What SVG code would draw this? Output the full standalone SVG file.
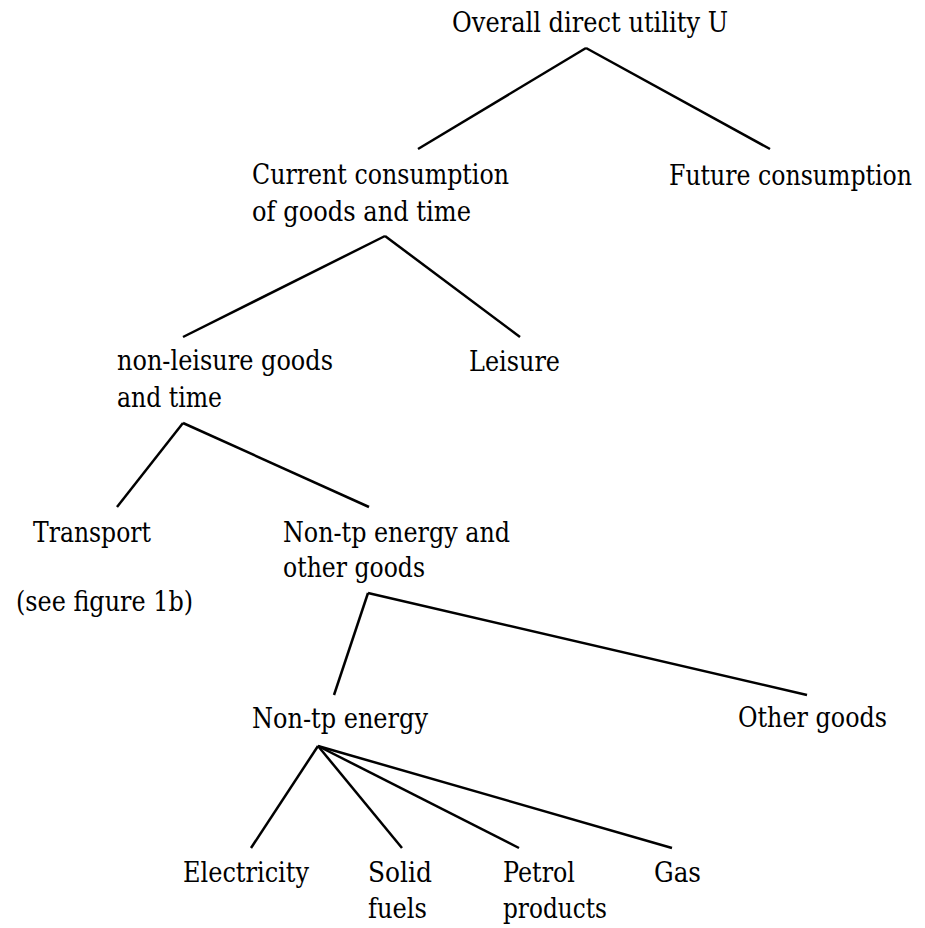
<svg xmlns="http://www.w3.org/2000/svg" width="925" height="928" viewBox="0 0 925 928">
<style>
text{font-family:'DejaVu Serif',serif;font-size:27px;fill:#000}
.c line{stroke:#000;stroke-width:2.5;stroke-linecap:butt}
</style>
<rect width="925" height="928" fill="#fff"/>
<g class="c" id="connectors">
<line x1="586" y1="48" x2="418" y2="149"/>
<line x1="586" y1="48" x2="770" y2="149"/>
<line x1="385" y1="236" x2="183" y2="337"/>
<line x1="385" y1="236" x2="520" y2="337"/>
<line x1="183" y1="423" x2="117" y2="507"/>
<line x1="183" y1="423" x2="369" y2="507"/>
<line x1="368" y1="593" x2="334" y2="695"/>
<line x1="368" y1="593" x2="807" y2="695"/>
<line x1="318" y1="746" x2="251" y2="848"/>
<line x1="318" y1="746" x2="402" y2="848"/>
<line x1="318" y1="746" x2="519" y2="848"/>
<line x1="318" y1="746" x2="672" y2="848"/>
</g>
<g id="utility"><text x="452" y="32" textLength="276" lengthAdjust="spacingAndGlyphs">Overall direct utility U</text></g>
<g id="future"><text x="669" y="185" textLength="243" lengthAdjust="spacingAndGlyphs">Future consumption</text></g>
<g id="current"><text x="252" y="184" textLength="257" lengthAdjust="spacingAndGlyphs">Current consumption</text><text x="252" y="221" textLength="219" lengthAdjust="spacingAndGlyphs">of goods and time</text></g>
<g id="nonleisure"><text x="117" y="370" textLength="216" lengthAdjust="spacingAndGlyphs">non-leisure goods</text><text x="117" y="407" textLength="105" lengthAdjust="spacingAndGlyphs">and time</text></g>
<g id="leisure"><text x="469" y="371" textLength="91" lengthAdjust="spacingAndGlyphs">Leisure</text></g>
<g id="transport"><text x="33" y="542" textLength="118" lengthAdjust="spacingAndGlyphs">Transport</text><text x="16" y="611" textLength="177" lengthAdjust="spacingAndGlyphs">(see figure 1b)</text></g>
<g id="nontp-other"><text x="283" y="542" textLength="227" lengthAdjust="spacingAndGlyphs">Non-tp energy and</text><text x="283" y="577" textLength="142" lengthAdjust="spacingAndGlyphs">other goods</text></g>
<g id="nontp"><text x="252" y="728" textLength="176" lengthAdjust="spacingAndGlyphs">Non-tp energy</text></g>
<g id="othergoods"><text x="738" y="727" textLength="149" lengthAdjust="spacingAndGlyphs">Other goods</text></g>
<g id="electricity"><text x="183" y="882" textLength="126" lengthAdjust="spacingAndGlyphs">Electricity</text></g>
<g id="solid"><text x="368" y="882" textLength="64" lengthAdjust="spacingAndGlyphs">Solid</text><text x="368" y="918" textLength="59" lengthAdjust="spacingAndGlyphs">fuels</text></g>
<g id="petrol"><text x="503" y="882" textLength="72" lengthAdjust="spacingAndGlyphs">Petrol</text><text x="503" y="918" textLength="104" lengthAdjust="spacingAndGlyphs">products</text></g>
<g id="gas"><text x="654" y="882" textLength="47" lengthAdjust="spacingAndGlyphs">Gas</text></g>
</svg>
